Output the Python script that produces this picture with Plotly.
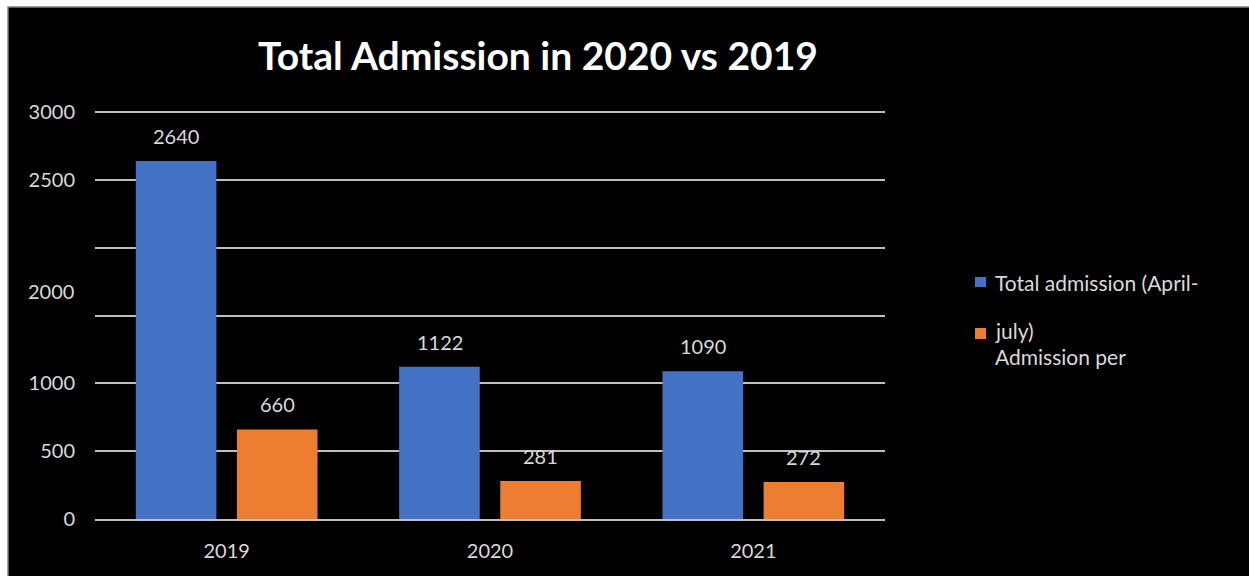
import plotly.graph_objects as go

# Admissions per year
years = ["2019", "2020", "2021"]
total_admission = [2640, 1122, 1090]
admission_per_month = [660, 281, 272]
series_names = ["Total admission (April-july)", "Admission per month"]

# Y-axis ticks (1500 and 2000 carry no label on the gridline itself)
ytick_vals = [0, 500, 1000, 1500, 2000, 2500, 3000]
ytick_text = ["0", "500", "1000", "", "", "2500", "3000"]

# Legend text as it wraps in the side panel
legend_lines = ["Total admission (April-", "july)", "Admission per"]

BLUE = "#4472c4"
ORANGE = "#ed7d31"
LABEL = "#d9d9d9"
GRID = "#bfbfbf"
FONT = "Lato"

W, H = 1249, 576
L, R, T, B = 95, 885, 111, 519  # plot area in pixels


def px_x(x):
    return (x - L) / (R - L)


def px_y(y):
    return (B - y) / (B - T)


fig = go.Figure()
fig.add_trace(go.Bar(x=years, y=total_admission, name=series_names[0],
                     marker=dict(color=BLUE, line=dict(width=0))))
fig.add_trace(go.Bar(x=years, y=admission_per_month, name=series_names[1],
                     marker=dict(color=ORANGE, line=dict(width=0))))

annotations = []
# value labels above each bar (x given as the category index)
for vals, shift in ((total_admission, -50.5), (admission_per_month, 50.5)):
    for i, v in enumerate(vals):
        annotations.append(dict(
            x=i, y=v, xref="x", yref="y", text=str(v), showarrow=False,
            xshift=shift, yanchor="bottom", yshift=11,
            font=dict(family=FONT, size=20, color=LABEL)))

# displaced "2000" axis label
annotations.append(dict(
    x=0, y=1684, xref="paper", yref="y", text="2000", showarrow=False,
    xanchor="right", xshift=-19, yanchor="middle",
    font=dict(family=FONT, size=20, color=LABEL)))

# title
annotations.append(dict(
    x=px_x(538), y=px_y(55), xref="paper", yref="paper",
    text="<b>Total Admission in 2020 vs 2019</b>", showarrow=False,
    xanchor="center", yanchor="middle",
    font=dict(family=FONT, size=39, color="white")))

# legend text
for text, cy in zip(legend_lines, (282, 330, 356)):
    annotations.append(dict(
        x=px_x(993), y=px_y(cy), xref="paper", yref="paper", text=text,
        showarrow=False, xanchor="left", yanchor="middle",
        font=dict(family=FONT, size=21, color=LABEL)))

shapes = [
    # black chart panel with thin grey edge
    dict(type="rect", xref="paper", yref="paper",
         x0=px_x(8), x1=px_x(1265), y0=px_y(590), y1=px_y(7),
         fillcolor="black", line=dict(color="#7f7f7f", width=1.5),
         layer="below"),
    # legend swatches
    dict(type="rect", xref="paper", yref="paper",
         x0=px_x(975), x1=px_x(986), y0=px_y(287), y1=px_y(277),
         fillcolor=BLUE, line=dict(width=0)),
    dict(type="rect", xref="paper", yref="paper",
         x0=px_x(975), x1=px_x(986), y0=px_y(339), y1=px_y(328),
         fillcolor=ORANGE, line=dict(width=0)),
]

fig.update_layout(
    width=W, height=H,
    margin=dict(l=L, r=W - R, t=T, b=H - B, pad=0),
    paper_bgcolor="white",
    plot_bgcolor="black",
    barmode="group",
    bargap=0.232,
    bargroupgap=0.203,
    showlegend=False,
    annotations=annotations,
    shapes=shapes,
    font=dict(family=FONT, color=LABEL),
    xaxis=dict(
        type="category", range=[-0.5, len(years) - 0.5],
        showgrid=False, showline=True, linecolor=GRID, linewidth=2,
        ticks="", tickfont=dict(family=FONT, size=20, color=LABEL),
        ticklabelstandoff=13,
    ),
    yaxis=dict(
        range=[0, 3008], tickvals=ytick_vals, ticktext=ytick_text,
        showgrid=True, gridcolor=GRID, gridwidth=2, zeroline=False,
        showline=False, ticks="",
        tickfont=dict(family=FONT, size=20, color=LABEL),
        ticklabelstandoff=19,
    ),
)

fig.write_html("out.html")
